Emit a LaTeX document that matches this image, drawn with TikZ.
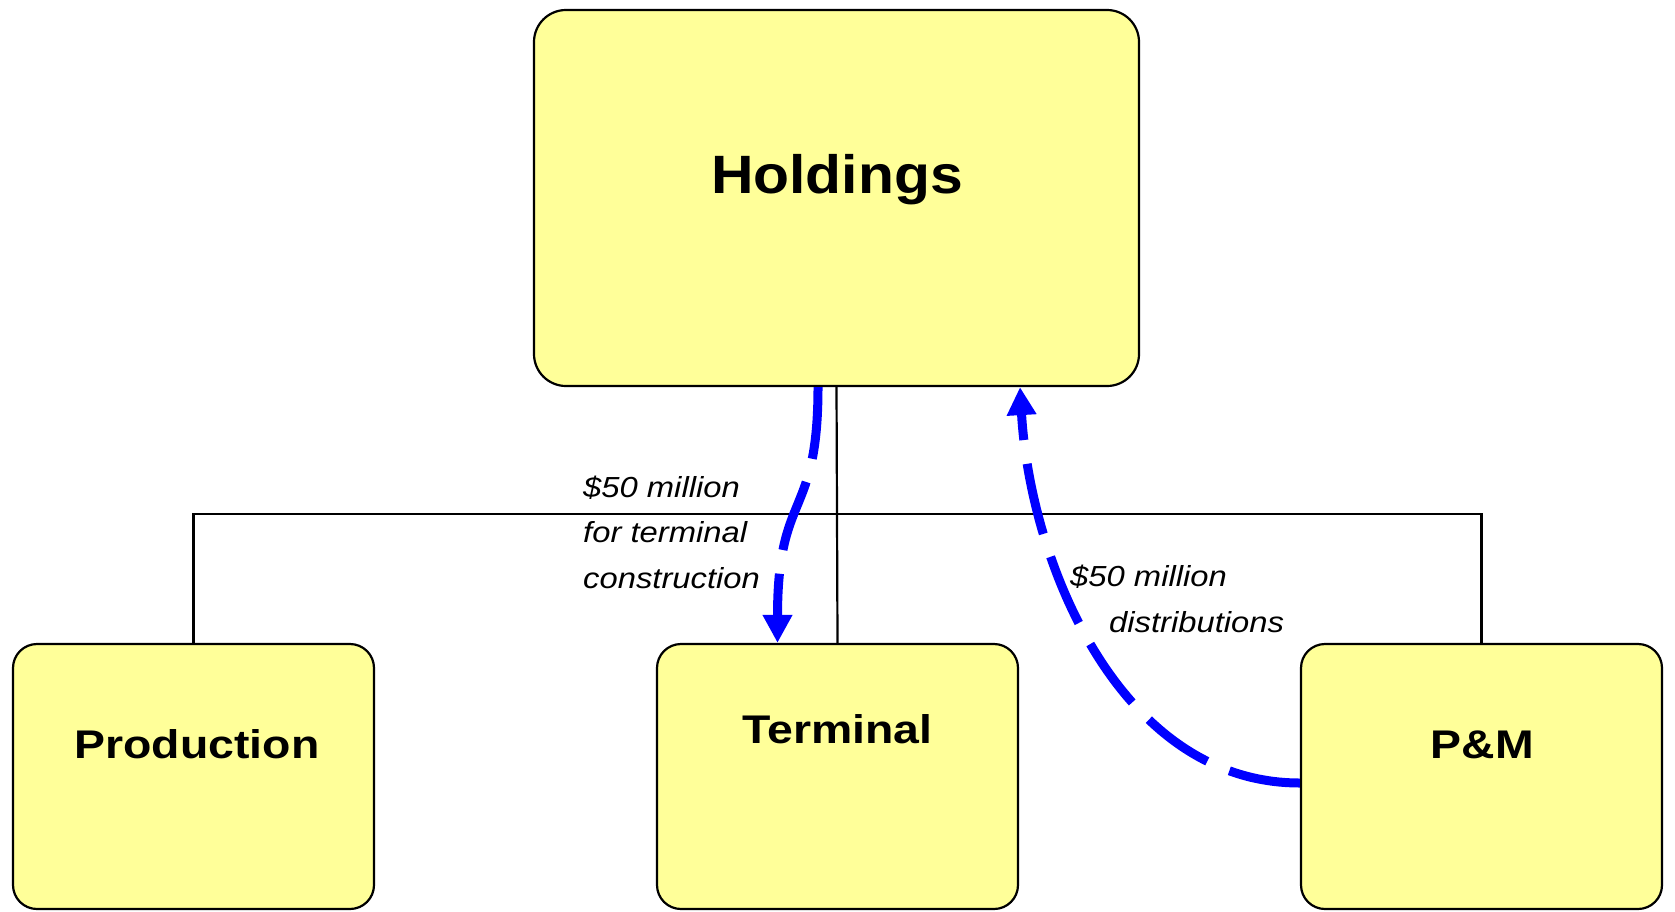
\documentclass[tikz,border=0pt]{standalone}
\usepackage{fontspec}
\setmainfont{Liberation Sans}
\newfontfamily\boxfont[FakeStretch=1.16]{Liberation Sans}
\newfontfamily\topfont[FakeStretch=1.09]{Liberation Sans}
\newfontfamily\notefont[FakeStretch=1.13]{Liberation Sans}
\usetikzlibrary{arrows.meta}
\definecolor{boxyellow}{HTML}{FFFF99}
\definecolor{flowblue}{HTML}{0000FF}

\begin{document}
\begin{tikzpicture}[x=1pt,y=-1pt,
  entity/.style={draw=black, line width=2.2pt, fill=boxyellow,
    rounded corners=24pt, inner sep=0pt,
    minimum width=361pt, minimum height=265pt},
  parent/.style={entity, rounded corners=32pt,
    minimum width=605pt, minimum height=376pt},
  boxtitle/.style={anchor=base, inner sep=0pt,
    font=\boxfont\bfseries\fontsize{40}{40}\selectfont},
  toptitle/.style={anchor=base, inner sep=0pt,
    font=\topfont\bfseries\fontsize{54}{54}\selectfont},
  note/.style={anchor=base west, inner sep=0pt, align=left,
    font=\notefont\itshape\fontsize{29}{45.5}\selectfont},
  tree/.style={draw=black, line width=2.2pt},
  flow/.style={draw=flowblue, line width=9pt, dash pattern=on 72pt off 24pt,
    -{Triangle[length=28pt,width=28pt]}}
]
\useasboundingbox (0,0) rectangle (1675,911);

% entities
\node[parent] (holdings) at (836.5,198) {};
\node[entity] (production) at (193.5,776.5) {};
\node[entity] (terminal) at (837.5,776.5) {};
\node[entity] (pm) at (1481.5,776.5) {};

\node[toptitle] (holdingsName) at (837,193) {Holdings};
\node[boxtitle] (productionName) at (197,758) {Production};
\node[boxtitle] (terminalName) at (837.5,743) {Terminal};
\node[boxtitle] (pmName) at (1482.5,758) {P\&M};

% ownership tree
\coordinate (bar) at (0,514);
\draw[tree] (holdings.south) -- (terminal.north);
\draw[tree] (production.north) -- (production.north |- bar)
  -- (pm.north |- bar) -- (pm.north);

% cash flows
\draw[flow] ([xshift=-18.5pt]holdings.south)
  .. controls +(0,134) and +(0,-154) .. ([xshift=-60pt]terminal.north);
\draw[flow] ([yshift=-6.5pt]pm.west)
  .. controls +(-181,0) and +(10,174) .. ([xshift=183.5pt]holdings.south);

% flow labels (anchored at the baseline of their last line)
\node[note] (fundLabel) at (583,588) {\$50 million\\for terminal\\construction};
\node[note] (distLabel) at (1070,632) {\$50 million\\\hspace*{39pt}distributions};
\end{tikzpicture}
\end{document}
